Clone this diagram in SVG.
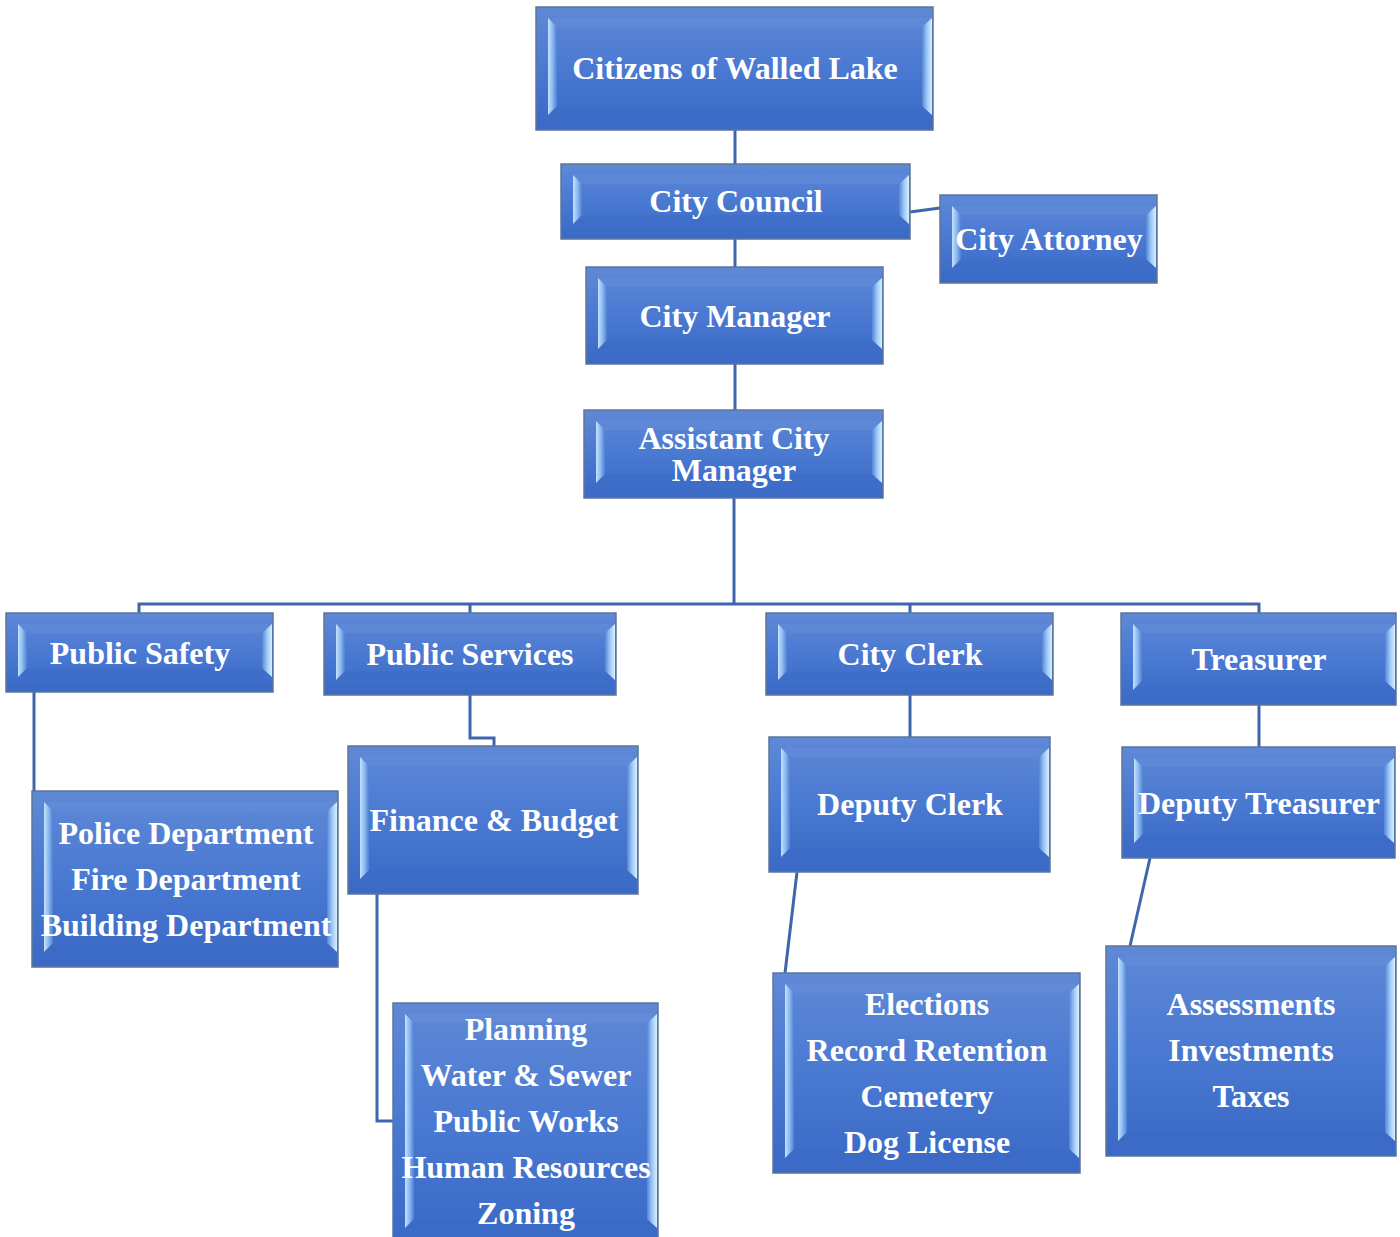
<svg xmlns="http://www.w3.org/2000/svg" width="1400" height="1237" viewBox="0 0 1400 1237">
<defs>
<linearGradient id="face" x1="0" y1="0" x2="0" y2="1">
<stop offset="0" stop-color="#5f89d6"/>
<stop offset="0.5" stop-color="#4a79d2"/>
<stop offset="1" stop-color="#3a69c6"/>
</linearGradient>
<linearGradient id="lb" x1="0" y1="0" x2="1" y2="0">
<stop offset="0" stop-color="#c4e2ff"/>
<stop offset="0.5" stop-color="#8cb9f0"/>
<stop offset="1" stop-color="#4e7fd4"/>
</linearGradient>
<linearGradient id="rb" x1="0" y1="0" x2="1" y2="0">
<stop offset="0" stop-color="#5585d6"/>
<stop offset="0.5" stop-color="#9cc8f6"/>
<stop offset="1" stop-color="#d8f0ff"/>
</linearGradient>
<style>
.face{fill:url(#face);stroke:#5d7598;stroke-width:1.5}
.lb{fill:url(#lb)}
.rb{fill:url(#rb)}
.tb{fill:#6a93dc;opacity:0.35}
.bb{fill:#3a6ac4;opacity:0.35}
.t{font-family:"Liberation Serif","Times New Roman",serif;font-weight:bold;font-size:32px;fill:#ffffff;text-anchor:middle}
.c{fill:none;stroke:#3f66ad;stroke-width:3}
</style>
</defs>
<rect width="1400" height="1237" fill="#ffffff"/>

<g id="connectors">
<path class="c" d="M735 130V164"/>
<path class="c" d="M910 212L940 208"/>
<path class="c" d="M735 239V267"/>
<path class="c" d="M735 364V410"/>
<path class="c" d="M734 498V604"/>
<path class="c" d="M139 613V604H1259V613"/>
<path class="c" d="M470 604V613"/>
<path class="c" d="M910 604V613"/>
<path class="c" d="M34 692V791"/>
<path class="c" d="M470 695V738H494V746"/>
<path class="c" d="M377 894V1121H393"/>
<path class="c" d="M910 695V737"/>
<path class="c" d="M797 872L785 973"/>
<path class="c" d="M1259 705V747"/>
<path class="c" d="M1150 858L1130 946"/>
</g>

<g id="n-citizens" transform="translate(536,7)">
<rect class="face" width="397" height="123"/>
<polygon class="tb" points="12,11 396,11 386,20 21,20"/>
<polygon class="bb" points="12,108 396,108 386,99 21,99"/>
<polygon class="lb" points="12,11 21,20 21,99 12,108"/>
<polygon class="rb" points="386,20 396,11 396,108 386,99"/>
<text class="t" x="199" y="72">Citizens of Walled Lake</text>
</g>

<g id="n-council" transform="translate(561,164)">
<rect class="face" width="349" height="75"/>
<polygon class="tb" points="12,11 348,11 338,20 21,20"/>
<polygon class="bb" points="12,60 348,60 338,51 21,51"/>
<polygon class="lb" points="12,11 21,20 21,51 12,60"/>
<polygon class="rb" points="338,20 348,11 348,60 338,51"/>
<text class="t" x="175" y="48">City Council</text>
</g>

<g id="n-attorney" transform="translate(940,195)">
<rect class="face" width="217" height="88"/>
<polygon class="tb" points="12,11 216,11 206,20 21,20"/>
<polygon class="bb" points="12,73 216,73 206,64 21,64"/>
<polygon class="lb" points="12,11 21,20 21,64 12,73"/>
<polygon class="rb" points="206,20 216,11 216,73 206,64"/>
<text class="t" x="109" y="55">City Attorney</text>
</g>

<g id="n-manager" transform="translate(586,267)">
<rect class="face" width="297" height="97"/>
<polygon class="tb" points="12,11 296,11 286,20 21,20"/>
<polygon class="bb" points="12,82 296,82 286,73 21,73"/>
<polygon class="lb" points="12,11 21,20 21,73 12,82"/>
<polygon class="rb" points="286,20 296,11 296,82 286,73"/>
<text class="t" x="149" y="60">City Manager</text>
</g>

<g id="n-assistant" transform="translate(584,410)">
<rect class="face" width="299" height="88"/>
<polygon class="tb" points="12,11 298,11 288,20 21,20"/>
<polygon class="bb" points="12,73 298,73 288,64 21,64"/>
<polygon class="lb" points="12,11 21,20 21,64 12,73"/>
<polygon class="rb" points="288,20 298,11 298,73 288,64"/>
<text class="t" x="150" y="39">Assistant City</text>
<text class="t" x="150" y="71">Manager</text>
</g>

<g id="n-publicsafety" transform="translate(6,613)">
<rect class="face" width="267" height="79"/>
<polygon class="tb" points="12,11 266,11 256,20 21,20"/>
<polygon class="bb" points="12,64 266,64 256,55 21,55"/>
<polygon class="lb" points="12,11 21,20 21,55 12,64"/>
<polygon class="rb" points="256,20 266,11 266,64 256,55"/>
<text class="t" x="134" y="51">Public Safety</text>
</g>

<g id="n-publicservices" transform="translate(324,613)">
<rect class="face" width="292" height="82"/>
<polygon class="tb" points="12,11 291,11 281,20 21,20"/>
<polygon class="bb" points="12,67 291,67 281,58 21,58"/>
<polygon class="lb" points="12,11 21,20 21,58 12,67"/>
<polygon class="rb" points="281,20 291,11 291,67 281,58"/>
<text class="t" x="146" y="52">Public Services</text>
</g>

<g id="n-cityclerk" transform="translate(766,613)">
<rect class="face" width="287" height="82"/>
<polygon class="tb" points="12,11 286,11 276,20 21,20"/>
<polygon class="bb" points="12,67 286,67 276,58 21,58"/>
<polygon class="lb" points="12,11 21,20 21,58 12,67"/>
<polygon class="rb" points="276,20 286,11 286,67 276,58"/>
<text class="t" x="144" y="52">City Clerk</text>
</g>

<g id="n-treasurer" transform="translate(1121,613)">
<rect class="face" width="275" height="92"/>
<polygon class="tb" points="12,11 274,11 264,20 21,20"/>
<polygon class="bb" points="12,77 274,77 264,68 21,68"/>
<polygon class="lb" points="12,11 21,20 21,68 12,77"/>
<polygon class="rb" points="264,20 274,11 274,77 264,68"/>
<text class="t" x="138" y="57">Treasurer</text>
</g>

<g id="n-police" transform="translate(32,791)">
<rect class="face" width="306" height="176"/>
<polygon class="tb" points="12,11 305,11 295,20 21,20"/>
<polygon class="bb" points="12,161 305,161 295,152 21,152"/>
<polygon class="lb" points="12,11 21,20 21,152 12,161"/>
<polygon class="rb" points="295,20 305,11 305,161 295,152"/>
<text class="t" x="154" y="53">Police Department</text>
<text class="t" x="154" y="99">Fire Department</text>
<text class="t" x="154" y="145">Building Department</text>
</g>

<g id="n-finance" transform="translate(348,746)">
<rect class="face" width="290" height="148"/>
<polygon class="tb" points="12,11 289,11 279,20 21,20"/>
<polygon class="bb" points="12,133 289,133 279,124 21,124"/>
<polygon class="lb" points="12,11 21,20 21,124 12,133"/>
<polygon class="rb" points="279,20 289,11 289,133 279,124"/>
<text class="t" x="146" y="85">Finance &amp; Budget</text>
</g>

<g id="n-planning" transform="translate(393,1003)">
<rect class="face" width="265" height="240"/>
<polygon class="tb" points="12,11 264,11 254,20 21,20"/>
<polygon class="bb" points="12,225 264,225 254,216 21,216"/>
<polygon class="lb" points="12,11 21,20 21,216 12,225"/>
<polygon class="rb" points="254,20 264,11 264,225 254,216"/>
<text class="t" x="133" y="37">Planning</text>
<text class="t" x="133" y="83">Water &amp; Sewer</text>
<text class="t" x="133" y="129">Public Works</text>
<text class="t" x="133" y="175">Human Resources</text>
<text class="t" x="133" y="221">Zoning</text>
</g>

<g id="n-deputyclerk" transform="translate(769,737)">
<rect class="face" width="281" height="135"/>
<polygon class="tb" points="12,11 280,11 270,20 21,20"/>
<polygon class="bb" points="12,120 280,120 270,111 21,111"/>
<polygon class="lb" points="12,11 21,20 21,111 12,120"/>
<polygon class="rb" points="270,20 280,11 280,120 270,111"/>
<text class="t" x="141" y="78">Deputy Clerk</text>
</g>

<g id="n-deputytreasurer" transform="translate(1122,747)">
<rect class="face" width="273" height="111"/>
<polygon class="tb" points="12,11 272,11 262,20 21,20"/>
<polygon class="bb" points="12,96 272,96 262,87 21,87"/>
<polygon class="lb" points="12,11 21,20 21,87 12,96"/>
<polygon class="rb" points="262,20 272,11 272,96 262,87"/>
<text class="t" x="137" y="67">Deputy Treasurer</text>
</g>

<g id="n-elections" transform="translate(773,973)">
<rect class="face" width="307" height="200"/>
<polygon class="tb" points="12,11 306,11 296,20 21,20"/>
<polygon class="bb" points="12,185 306,185 296,176 21,176"/>
<polygon class="lb" points="12,11 21,20 21,176 12,185"/>
<polygon class="rb" points="296,20 306,11 306,185 296,176"/>
<text class="t" x="154" y="42">Elections</text>
<text class="t" x="154" y="88">Record Retention</text>
<text class="t" x="154" y="134">Cemetery</text>
<text class="t" x="154" y="180">Dog License</text>
</g>

<g id="n-assessments" transform="translate(1106,946)">
<rect class="face" width="290" height="210"/>
<polygon class="tb" points="12,11 289,11 279,20 21,20"/>
<polygon class="bb" points="12,195 289,195 279,186 21,186"/>
<polygon class="lb" points="12,11 21,20 21,186 12,195"/>
<polygon class="rb" points="279,20 289,11 289,195 279,186"/>
<text class="t" x="145" y="69">Assessments</text>
<text class="t" x="145" y="115">Investments</text>
<text class="t" x="145" y="161">Taxes</text>
</g>
</svg>
